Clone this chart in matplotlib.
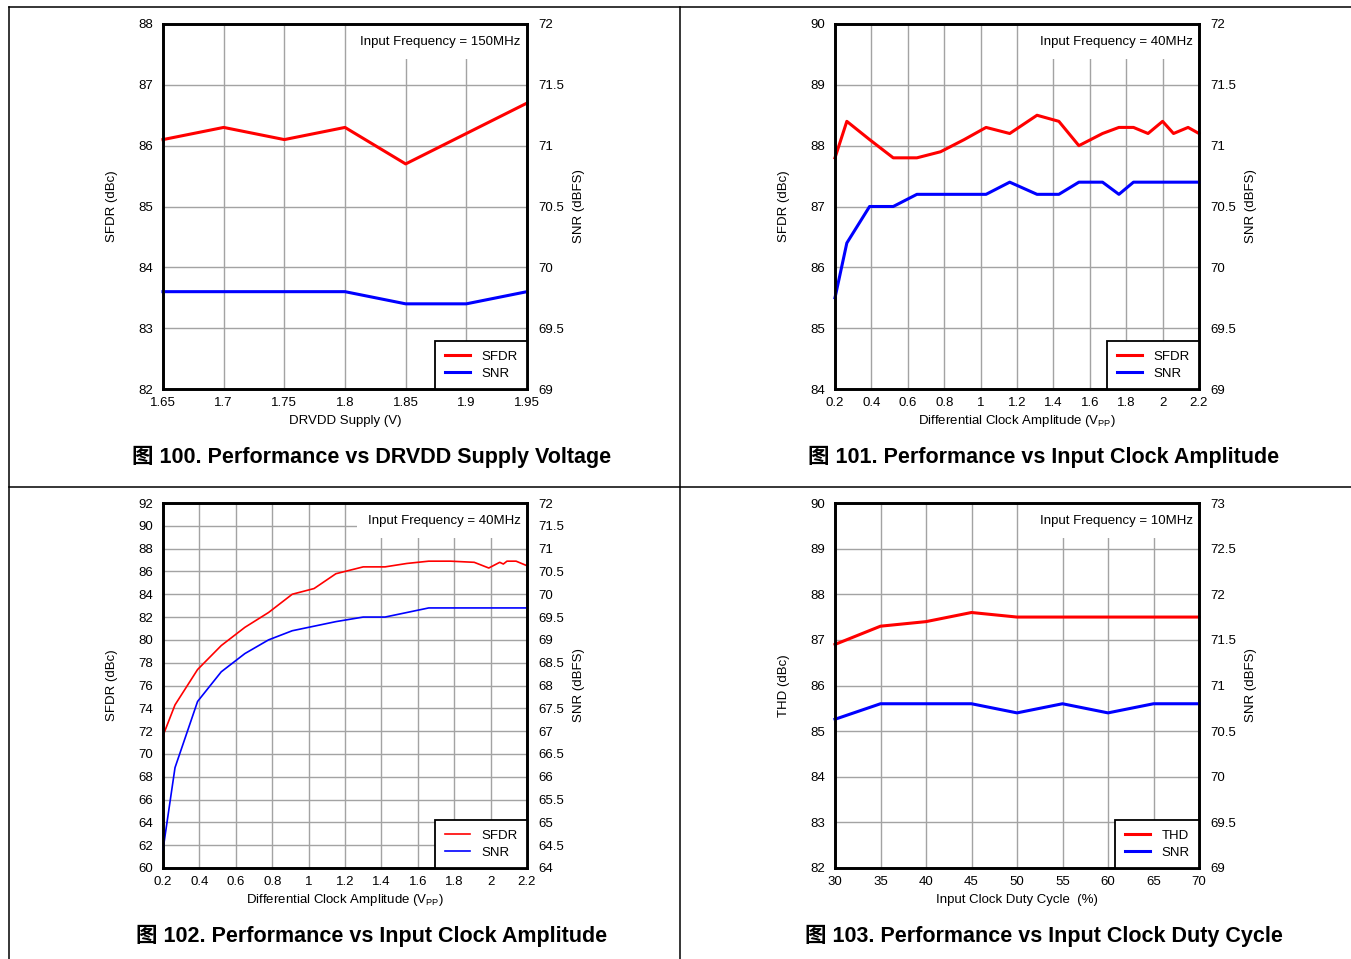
"""Four performance panels (SFDR / SNR / THD) in a 2x2 datasheet layout."""

import matplotlib

matplotlib.use("Agg")
from matplotlib import pyplot as plt
from matplotlib.lines import Line2D
from matplotlib.ticker import FuncFormatter, MultipleLocator

plt.rcParams["font.family"] = ["Liberation Sans", "Noto Sans CJK SC", "DejaVu Sans"]
plt.rcParams["mathtext.default"] = "regular"

# =========================================================================
# Data
# =========================================================================

# 100: vs DRVDD supply
drvdd_v = [1.65, 1.70, 1.75, 1.80, 1.85, 1.90, 1.95]
drvdd_sfdr = [86.1, 86.3, 86.1, 86.3, 85.7, 86.2, 86.7]
drvdd_snr = [69.8, 69.8, 69.8, 69.8, 69.7, 69.7, 69.8]

# 101: vs input clock amplitude (40 MHz)
clk_a_vpp = [0.2, 0.265, 0.39, 0.52, 0.65, 0.78, 0.91, 1.03, 1.16, 1.31,
             1.43, 1.54, 1.67, 1.76, 1.84, 1.92, 2.0, 2.06, 2.14, 2.2]
clk_a_sfdr = [87.8, 88.4, 88.1, 87.8, 87.8, 87.9, 88.1, 88.3, 88.2, 88.5,
              88.4, 88.0, 88.2, 88.3, 88.3, 88.2, 88.4, 88.2, 88.3, 88.2]
clk_a_snr = [69.75, 70.2, 70.5, 70.5, 70.6, 70.6, 70.6, 70.6, 70.7, 70.6,
             70.6, 70.7, 70.7, 70.6, 70.7, 70.7, 70.7, 70.7, 70.7, 70.7]

# 102: vs input clock amplitude (second data set)
clk_b_vpp = [0.2, 0.266, 0.39, 0.52, 0.65, 0.78, 0.91, 1.03, 1.15, 1.30, 1.42,
             1.54, 1.66, 1.78, 1.91, 1.99, 2.05, 2.07, 2.09, 2.14, 2.2]
clk_b_sfdr = [71.6, 74.3, 77.4, 79.5, 81.1, 82.4, 84.0, 84.5, 85.8, 86.4, 86.4,
              86.7, 86.9, 86.9, 86.8, 86.3, 86.8, 86.65, 86.9, 86.9, 86.5]
clk_b_snr = [64.4, 66.2, 67.65, 68.3, 68.7, 69.0, 69.2, 69.3, 69.4, 69.5, 69.5,
             69.6, 69.7, 69.7, 69.7, 69.7, 69.7, 69.7, 69.7, 69.7, 69.7]

# 103: vs input clock duty cycle
duty_pct = [30, 35, 40, 45, 50, 55, 60, 65, 70]
duty_thd = [86.9, 87.3, 87.4, 87.6, 87.5, 87.5, 87.5, 87.5, 87.5]
duty_snr = [70.63, 70.8, 70.8, 70.8, 70.7, 70.8, 70.7, 70.8, 70.8]

# =========================================================================
# Layout helpers (pixel based, figure is 1351 x 959)
# =========================================================================

W, H = 1351, 959
GRID = "#a3a3a3"
TICK_FS = 9.5
fmt = FuncFormatter(lambda v, _: f"{v:g}")


def px_rect(x0, y0, x1, y1):
    return [x0 / W, 1 - y1 / H, (x1 - x0) / W, (y1 - y0) / H]


def panel(fig, box, x, left, right, xlim, xstep, ylim, ystep, y2lim, y2step,
          xlabel, ylabel, left_name, freq, lw, caption, cap_x, cap_y):
    x0, y0, x1, y1 = box
    ax = fig.add_axes(px_rect(x0, y0, x1, y1))
    ax2 = ax.twinx()

    ax.set_xlim(*xlim)
    ax.set_ylim(*ylim)
    ax2.set_ylim(*y2lim)
    ax.xaxis.set_major_locator(MultipleLocator(xstep))
    ax.yaxis.set_major_locator(MultipleLocator(ystep))
    ax2.yaxis.set_major_locator(MultipleLocator(y2step))
    for a in (ax.xaxis, ax.yaxis, ax2.yaxis):
        a.set_major_formatter(fmt)

    ax.set_axisbelow(True)
    ax.grid(True, color=GRID, linewidth=1.0)
    ax.tick_params(axis="both", length=0, labelsize=TICK_FS, colors="black")
    ax.tick_params(axis="y", pad=7)
    ax.tick_params(axis="x", pad=6)
    ax2.tick_params(axis="y", length=0, labelsize=TICK_FS, pad=8)
    for a in (ax, ax2):
        for s in a.spines.values():
            s.set_linewidth(1.9)

    l1, = ax.plot(x, left, color="#ff0000", linewidth=lw, clip_on=False)
    l2, = ax2.plot(x, right, color="#0000ff", linewidth=lw, clip_on=False)

    ax.text(0.983, 1 - 18 / (y1 - y0), f"Input Frequency = {freq}",
            transform=ax.transAxes, ha="right", va="center", fontsize=TICK_FS,
            zorder=2.4,
            bbox=dict(facecolor="white", edgecolor="none", pad=8))

    leg = ax2.legend([l1, l2], [left_name, "SNR"], loc="lower right",
                     borderaxespad=0, fancybox=False, fontsize=TICK_FS,
                     handlelength=1.9, handletextpad=0.9, borderpad=0.7,
                     labelspacing=0.35, framealpha=1)
    leg.get_frame().set_edgecolor("black")
    leg.get_frame().set_linewidth(1.3)

    cx = (x0 + x1) / 2
    fig.text(cx / W, 1 - (y1 + 32) / H, xlabel, ha="center", va="center",
             fontsize=TICK_FS)
    fig.text((x0 - 51) / W, 1 - (y0 + y1) / 2 / H, ylabel, rotation=90,
             ha="center", va="center", fontsize=TICK_FS)
    fig.text((x1 + 52) / W, 1 - (y0 + y1) / 2 / H, "SNR (dBFS)", rotation=90,
             ha="center", va="center", fontsize=TICK_FS)
    fig.text(cap_x / W, 1 - cap_y / H, caption, ha="center", va="center",
             fontsize=15.5, fontweight="bold")


fig = plt.figure(figsize=(W / 100, H / 100), dpi=100, facecolor="white")

# frame lines between the four cells
for (xa, ya, xb, yb) in [(9, 7, W, 7), (9, 487, W, 487), (9, 7, 9, H), (680, 7, 680, H)]:
    fig.add_artist(Line2D([xa / W, xb / W], [1 - ya / H, 1 - yb / H],
                          color="black", linewidth=1.1))

vpp_label = "Differential Clock Amplitude (V$_{PP}$)"

panel(fig, (163, 24, 527, 389), drvdd_v, drvdd_sfdr, drvdd_snr,
      (1.65, 1.95), 0.05, (82, 88), 1, (69, 72), 0.5,
      "DRVDD Supply (V)", "SFDR (dBc)", "SFDR", "150MHz", 2.2,
      "图 100. Performance vs DRVDD Supply Voltage", 372, 457)

panel(fig, (835, 24, 1199, 389), clk_a_vpp, clk_a_sfdr, clk_a_snr,
      (0.2, 2.2), 0.2, (84, 90), 1, (69, 72), 0.5,
      vpp_label, "SFDR (dBc)", "SFDR", "40MHz", 2.2,
      "图 101. Performance vs Input Clock Amplitude", 1044, 457)

panel(fig, (163, 503, 527, 868), clk_b_vpp, clk_b_sfdr, clk_b_snr,
      (0.2, 2.2), 0.2, (60, 92), 2, (64, 72), 0.5,
      vpp_label, "SFDR (dBc)", "SFDR", "40MHz", 1.2,
      "图 102. Performance vs Input Clock Amplitude", 372, 936)

panel(fig, (835, 503, 1199, 868), duty_pct, duty_thd, duty_snr,
      (30, 70), 5, (82, 90), 1, (69, 73), 0.5,
      "Input Clock Duty Cycle  (%)", "THD (dBc)", "THD", "10MHz", 2.2,
      "图 103. Performance vs Input Clock Duty Cycle", 1044, 936)

fig.savefig("out.png", dpi=100, facecolor="white")
plt.close(fig)
